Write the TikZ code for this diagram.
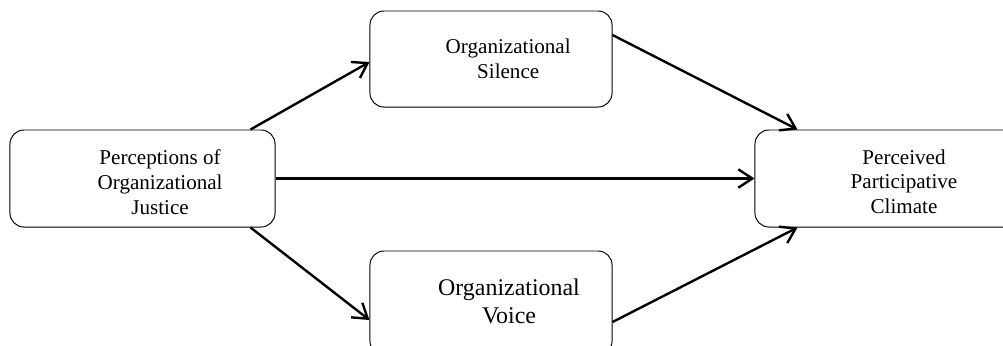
\documentclass[tikz,border=0pt]{standalone}
\usepackage{fontspec}
\setmainfont{Liberation Serif}
\usetikzlibrary{arrows.meta}
\begin{document}
\begin{tikzpicture}[x=0.025cm,y=-0.025cm,
  bubble/.style={draw, line width=0.7pt, rounded corners=0.35cm, minimum width=6.625cm, minimum height=2.425cm},
  midbubble/.style={bubble, minimum width=6.05cm, minimum height=2.4cm},
  boxtext/.style={align=center, inner sep=0pt, font=\fontsize{15}{17.7}\selectfont},
  arr/.style={line width=1.7pt, -{Straight Barb[length=3.5mm,width=4.6mm]}}]
\useasboundingbox (0,0) rectangle (1003,345);
\node[bubble] (just) at (142.5,178.5) {};
\node[midbubble] (sil) at (491,59) {};
\node[midbubble, minimum height=2.6cm] (voice) at (491,303) {};
\node[bubble, minimum width=7cm] (clim) at (895,178.5) {};
\node[boxtext] (justtxt) at ([xshift=0.44cm,yshift=-0.1cm]just.center) {Perceptions of\\Organizational\\Justice};
\node[boxtext] (siltxt) at ([xshift=0.43cm]sil.center) {Organizational\\Silence};
\node[boxtext, font=\fontsize{17}{19.8}\selectfont] (voicetxt) at ([xshift=0.45cm,yshift=0.05cm]voice.center) {Organizational\\Voice};
\node[boxtext] (climtxt) at ([xshift=0.225cm,yshift=-0.08cm]clim.center) {Perceived\\Participative\\Climate};
\draw[arr] ([xshift=-0.625cm]just.north east) -- ([yshift=-0.075cm]sil.west);
\draw[arr] ([xshift=-0.625cm]just.south east) -- ([yshift=-0.425cm]voice.west);
\draw[arr] (just.east) -- (clim.west);
\draw[arr] ([yshift=0.6cm]sil.east) -- ([xshift=1.075cm]clim.north west);
\draw[arr] ([yshift=-0.475cm]voice.east) -- ([xshift=1.075cm]clim.south west);
\end{tikzpicture}
\end{document}
